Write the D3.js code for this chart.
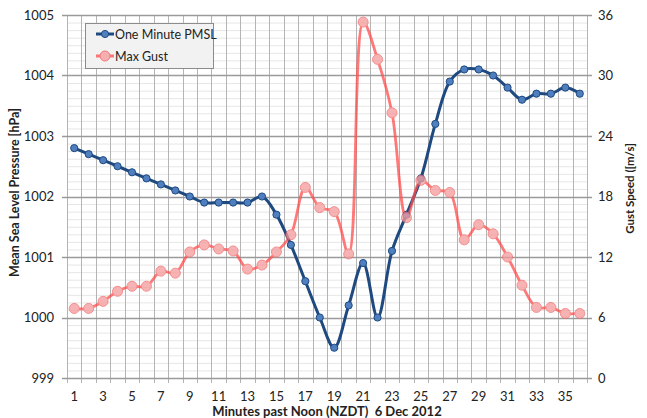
<!DOCTYPE html>
<html>
<head>
<meta charset="utf-8">
<script src="https://cdn.jsdelivr.net/npm/d3@7/dist/d3.min.js"></script>
<style>
  body { margin: 0; background: #fff; }
  svg { display: block; font-family: Lato, "Open Sans", sans-serif; }
  .pre { white-space: pre; }
</style>
</head>
<body>
<svg id="chart" width="647" height="418"></svg>
<script>
// Minutes past noon, 6 Dec 2012
const minutes = [1,2,3,4,5,6,7,8,9,10,11,12,13,14,15,16,17,18,19,20,21,22,23,24,25,26,27,28,29,30,31,32,33,34,35,36];
// One-minute mean sea level pressure [hPa]
const pmsl = [1002.8,1002.7,1002.6,1002.5,1002.4,1002.3,1002.2,1002.1,1002.0,1001.9,1001.9,1001.9,1001.9,1002.0,1001.7,1001.2,1000.6,1000.0,999.5,1000.2,1000.9,1000.0,1001.1,1001.7,1002.3,1003.2,1003.9,1004.1,1004.1,1004.0,1003.8,1003.6,1003.7,1003.7,1003.8,1003.7];
// Maximum gust speed [m/s]
const gust = [6.9,6.9,7.6,8.6,9.1,9.1,10.6,10.4,12.5,13.2,12.8,12.6,10.8,11.2,12.5,14.2,18.9,16.9,16.5,12.3,35.3,31.6,26.3,15.9,19.6,18.6,18.4,13.7,15.2,14.3,12.0,9.2,7.0,7.0,6.4,6.4];
// Axis ticks
const xTickLabels = [1,3,5,7,9,11,13,15,17,19,21,23,25,27,29,31,33,35];
const pressureTicks = [999,1000,1001,1002,1003,1004,1005];
const gustTicks = [0,6,12,18,24,30,36];
const seriesNames = ["One Minute PMSL", "Max Gust"];

const svg = d3.select("#chart");
const L = 67, R = 587, T = 15, B = 378;

const x = d3.scaleBand().domain(minutes).range([L, R]);
const cx = d => x(d) + x.bandwidth() / 2;
const yP = d3.scaleLinear().domain([999, 1005]).range([B, T]);
const yG = d3.scaleLinear().domain([0, 36]).range([B, T]);

// Minor horizontal grid (eighths of a hectopascal)
const minor = d3.range(0, 48).map(i => 999 + i / 8).filter(v => Math.abs(v - Math.round(v)) > 1e-6);
svg.append("g").selectAll("line").data(minor).join("line")
  .attr("x1", L).attr("x2", R)
  .attr("y1", d => yP(d) + 0.5).attr("y2", d => yP(d) + 0.5)
  .attr("stroke", "#e6e6e6").attr("stroke-width", 1);

// Vertical grid at category boundaries
const bounds = minutes.map(d => x(d)).concat([R]);
svg.append("g").selectAll("line").data(bounds).join("line")
  .attr("x1", d => Math.round(d) + 0.5).attr("x2", d => Math.round(d) + 0.5)
  .attr("y1", T).attr("y2", B + 5)
  .attr("stroke", "#b4b4b4").attr("stroke-width", 1);

// Major horizontal grid
svg.append("g").selectAll("line").data(pressureTicks).join("line")
  .attr("x1", L - 5).attr("x2", R + 5)
  .attr("y1", d => Math.round(yP(d)) + 0.5).attr("y2", d => Math.round(yP(d)) + 0.5)
  .attr("stroke", "#9a9a9a").attr("stroke-width", 1.3);

// Left axis labels
svg.append("g").selectAll("text").data(pressureTicks).join("text")
  .attr("x", 54).attr("y", d => yP(d) + 4.5)
  .attr("text-anchor", "end").attr("font-size", 13).attr("fill", "#222")
  .text(d => d);

// Right axis labels
svg.append("g").selectAll("text").data(gustTicks).join("text")
  .attr("x", 598).attr("y", d => yG(d) + 4.5)
  .attr("text-anchor", "start").attr("font-size", 13).attr("fill", "#222")
  .text(d => d);

// Bottom axis labels
svg.append("g").selectAll("text").data(xTickLabels).join("text")
  .attr("x", d => cx(d)).attr("y", 401)
  .attr("text-anchor", "middle").attr("font-size", 13).attr("fill", "#222")
  .text(d => d);

// Axis titles
svg.append("text")
  .attr("transform", `translate(19,${(T + B) / 2 - 4}) rotate(-90)`)
  .attr("text-anchor", "middle").attr("font-size", 12.5).attr("font-weight", "bold").attr("fill", "#222")
  .text("Mean Sea Level Pressure [hPa]");
svg.append("text")
  .attr("transform", `translate(634,${(T + B) / 2 - 8}) rotate(-90)`)
  .attr("text-anchor", "middle").attr("font-size", 11.5).attr("font-weight", "bold").attr("fill", "#222")
  .text("Gust Speed ([m/s]");
svg.append("text").attr("class", "pre")
  .attr("x", (L + R) / 2).attr("y", 416)
  .attr("text-anchor", "middle").attr("font-size", 13).attr("font-weight", "bold").attr("fill", "#222")
  .text("Minutes past Noon (NZDT)  6 Dec 2012");

// Pressure series
const blue = "#1f4a80", blueFill = "#4f7fbf";
const lineP = d3.line().x((d, i) => cx(minutes[i])).y(d => yP(d)).curve(d3.curveCatmullRom.alpha(0.5));
svg.append("path").datum(pmsl).attr("d", lineP)
  .attr("fill", "none").attr("stroke", blue).attr("stroke-width", 3).attr("stroke-linejoin", "round");
svg.append("g").selectAll("circle").data(pmsl).join("circle")
  .attr("cx", (d, i) => cx(minutes[i])).attr("cy", d => yP(d)).attr("r", 3.6)
  .attr("fill", blueFill).attr("stroke", blue).attr("stroke-width", 1);

// Gust series (semi-transparent, on top)
const red = "#ff4d4d";
const lineG = d3.line().x((d, i) => cx(minutes[i])).y(d => yG(d)).curve(d3.curveCatmullRom.alpha(0.5));
const gG = svg.append("g").attr("opacity", 0.75);
gG.append("path").datum(gust).attr("d", lineG)
  .attr("fill", "none").attr("stroke", red).attr("stroke-width", 2.8).attr("stroke-linejoin", "round");
gG.selectAll("circle").data(gust).join("circle")
  .attr("cx", (d, i) => cx(minutes[i])).attr("cy", d => yG(d)).attr("r", 5)
  .attr("fill", "#f59a9a").attr("stroke", "#f06a6a").attr("stroke-width", 1);

// Legend
const lg = svg.append("g");
lg.append("rect").attr("x", 85.5).attr("y", 23.5).attr("width", 128).attr("height", 45)
  .attr("fill", "#f2f2f2").attr("stroke", "#8c8c8c").attr("stroke-width", 1);
const items = [
  { name: seriesNames[0], y: 34, stroke: blue, fill: blueFill, r: 3.6, op: 1 },
  { name: seriesNames[1], y: 56, stroke: red, fill: "#f59a9a", r: 5, op: 0.75 }
];
items.forEach(it => {
  const g = lg.append("g").attr("opacity", it.op);
  g.append("line").attr("x1", 96).attr("x2", 114).attr("y1", it.y).attr("y2", it.y)
    .attr("stroke", it.stroke).attr("stroke-width", 3);
  g.append("circle").attr("cx", 105).attr("cy", it.y).attr("r", it.r)
    .attr("fill", it.fill).attr("stroke", it.stroke).attr("stroke-width", 1);
  lg.append("text").attr("x", 115).attr("y", it.y + 4.5).attr("font-size", 12.5).attr("fill", "#222")
    .text(it.name);
});
</script>
</body>
</html>
